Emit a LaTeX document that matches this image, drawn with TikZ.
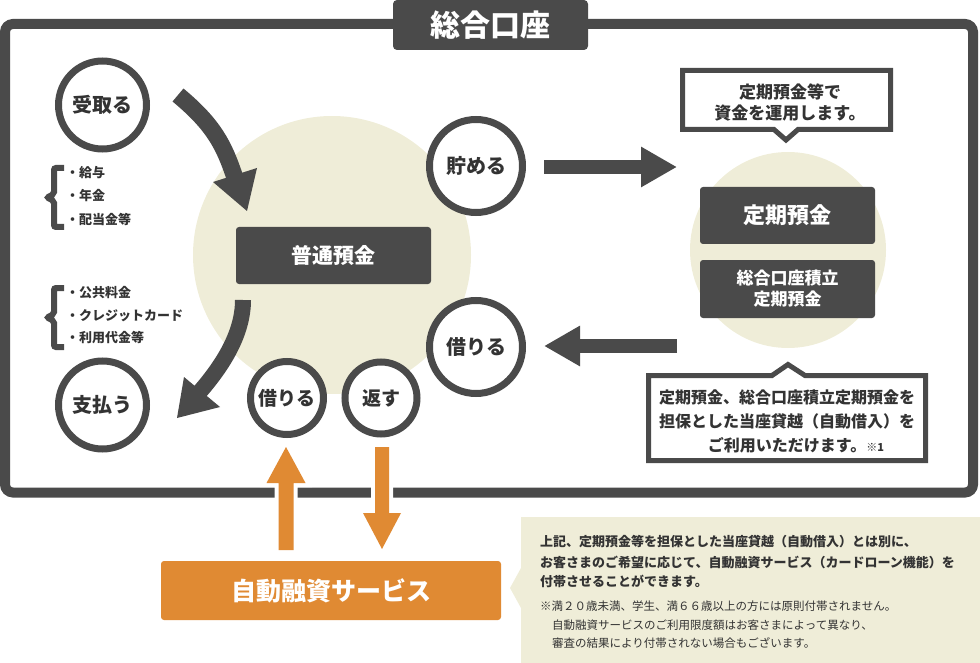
\documentclass[tikz,border=0pt]{standalone}
\usepackage{fontspec}
\setmainfont{Noto Sans CJK JP}
\usetikzlibrary{arrows.meta}
\definecolor{dk}{HTML}{4A4A4A}
\definecolor{tx}{HTML}{333333}
\definecolor{bgc}{HTML}{EFEDD8}
\definecolor{og}{HTML}{E08A33}
\newcommand{\fs}[1]{\fontsize{#1}{#1}\selectfont}
\begin{document}
\begin{tikzpicture}[x=1pt,y=-1pt,
 ring/.style={circle,draw=dk,line width=7pt,fill=white,text=tx,inner sep=0pt,font=\fs{20}\bfseries},
 dbox/.style={rectangle,rounded corners=3pt,fill=dk,text=white,inner sep=0pt,align=center},
 callout/.style={draw=dk,line width=5pt,fill=white,line join=miter},
 item/.style={anchor=west,text=tx,inner sep=0pt,font=\fs{13}\bfseries},
 brace/.style={draw=dk,line width=6pt,rounded corners=2pt},
 darr/.style={draw=dk,line width=14pt,-{Triangle[width=38pt,length=36pt]}},
 oarrow/.style={fill=og,preaction={draw=white,line width=8pt,line join=miter}},
 note/.style={anchor=west,text=tx,inner sep=0pt}
]
\useasboundingbox (0,0) rectangle (980,663);
% background discs
\fill[bgc] (332,255) circle[radius=139pt];
\fill[bgc] (788,250) circle[radius=98pt];
% frame
\draw[dk,line width=10pt,rounded corners=8pt] (5,24) rectangle (973,492.5);
\node[dbox,rounded corners=4pt,minimum width=195pt,minimum height=50pt,font=\fs{30}\bfseries] (title) at (490.5,25) {総合口座};
% braces and lists
\draw[brace] (64,168) -- (54,168) -- (54,194) -- (47,197.5) -- (54,201) -- (54,227) -- (64,227);
\draw[brace] (64,288) -- (54,288) -- (54,314) -- (47,317.5) -- (54,321) -- (54,347) -- (64,347);
\node[item] (i1) at (66,173) {・給与};
\node[item] (i2) at (66,196) {・年金};
\node[item] (i3) at (66,219) {・配当金等};
\node[item] (i4) at (66,293) {・公共料金};
\node[item] (i5) at (66,316) {・クレジットカード};
\node[item] (i6) at (66,338) {・利用代金等};
% curved arrows
\draw[dk,line width=17pt] (178,95) .. controls (214,125) and (224,145) .. (235,178);
\fill[dk] (213,182) -- (257,168) -- (247,211) -- cycle;
\draw[dk,line width=16pt] (243,300) .. controls (243,335) and (221,368) .. (197,395);
\fill[dk] (184,377) -- (220,407) -- (177,418) -- cycle;
% circles
\node[ring,minimum size=88pt] (recv) at (102.5,105) {受取る};
\node[ring,minimum size=88pt] (pay) at (102.5,405) {支払う};
\node[ring,minimum size=93pt] (save) at (476,166) {貯める};
\node[ring,minimum size=93pt] (borR) at (476,347) {借りる};
\node[ring,minimum size=73pt,font=\fs{19}\bfseries] (borB) at (287,398) {借りる};
\node[ring,minimum size=72pt,font=\fs{19}\bfseries] (repay) at (381,398) {返す};
% boxes
\node[dbox,minimum width=195pt,minimum height=57pt,font=\fs{21}\bfseries] (futsu) at (333.5,255.5) {普通預金};
\node[dbox,minimum width=175pt,minimum height=57pt,font=\fs{22}\bfseries] (teiki) at (787.5,215.5) {定期預金};
\node[dbox,minimum width=175pt,minimum height=58pt,font=\fontsize{17}{21}\selectfont\bfseries] (tsumi) at (787.5,289) {総合口座積立\\定期預金};
% straight arrows
\coordinate (r1) at (544,167);
\coordinate (r2) at (677,167);
\coordinate (l1) at (677,346);
\coordinate (l2) at (544,346);
\draw[darr] (r1) -- (r2);
\draw[darr] (l1) -- (l2);
% callouts
\draw[callout] (682.5,70.5) -- (890.5,70.5) -- (890.5,129.5) -- (798,129.5) -- (786,140) -- (774,129.5) -- (682.5,129.5) -- cycle;
\node[text=tx,align=center,font=\fontsize{17}{21}\selectfont\bfseries] (c1) at (790,102.5) {定期預金等で\\資金を運用します。};
\draw[callout] (648.5,375.5) -- (772,375.5) -- (788,364.5) -- (805,375.5) -- (925.5,375.5) -- (925.5,460.5) -- (648.5,460.5) -- cycle;
\node[text=tx,align=center,font=\fontsize{16}{24}\selectfont\bfseries] (c2) at (787,421) {定期預金、総合口座積立定期預金を\\担保とした当座貸越（自動借入）を\\\hspace*{18pt}ご利用いただけます。{\fs{11}※1}};
% orange arrows and box
\path[oarrow] (278.5,550) -- (278.5,483) -- (266.5,483) -- (286,447) -- (305.5,483) -- (293.5,483) -- (293.5,550) -- cycle;
\path[oarrow] (375,447) -- (389,447) -- (389,513) -- (401,513) -- (382,549) -- (363,513) -- (375,513) -- cycle;
\node[rectangle,rounded corners=3pt,fill=og,text=white,minimum width=340pt,minimum height=59pt,inner sep=0pt,font=\fs{25}\bfseries] (auto) at (331,590.5) {自動融資サービス};
% note
\fill[bgc] (521,517) -- (980,517) -- (980,663) -- (521,663) -- (521,608) -- (510,588) -- (521,568) -- cycle;
\node[note,font=\fs{13}\bfseries] (n1) at (540,542) {上記、定期預金等を担保とした当座貸越（自動借入）とは別に、};
\node[note,font=\fs{13}\bfseries] (n2) at (540,562) {お客さまのご希望に応じて、自動融資サービス（カードローン機能）を};
\node[note,font=\fs{13}\bfseries] (n3) at (540,581) {付帯させることができます。};
\node[note,font=\fs{11.5}] (n4) at (540,606) {※満２０歳未満、学生、満６６歳以上の方には原則付帯されません。};
\node[note,font=\fs{11.5}] (n5) at (552,625) {自動融資サービスのご利用限度額はお客さまによって異なり、};
\node[note,font=\fs{11.5}] (n6) at (552,643) {審査の結果により付帯されない場合もございます。};
\end{tikzpicture}
\end{document}
